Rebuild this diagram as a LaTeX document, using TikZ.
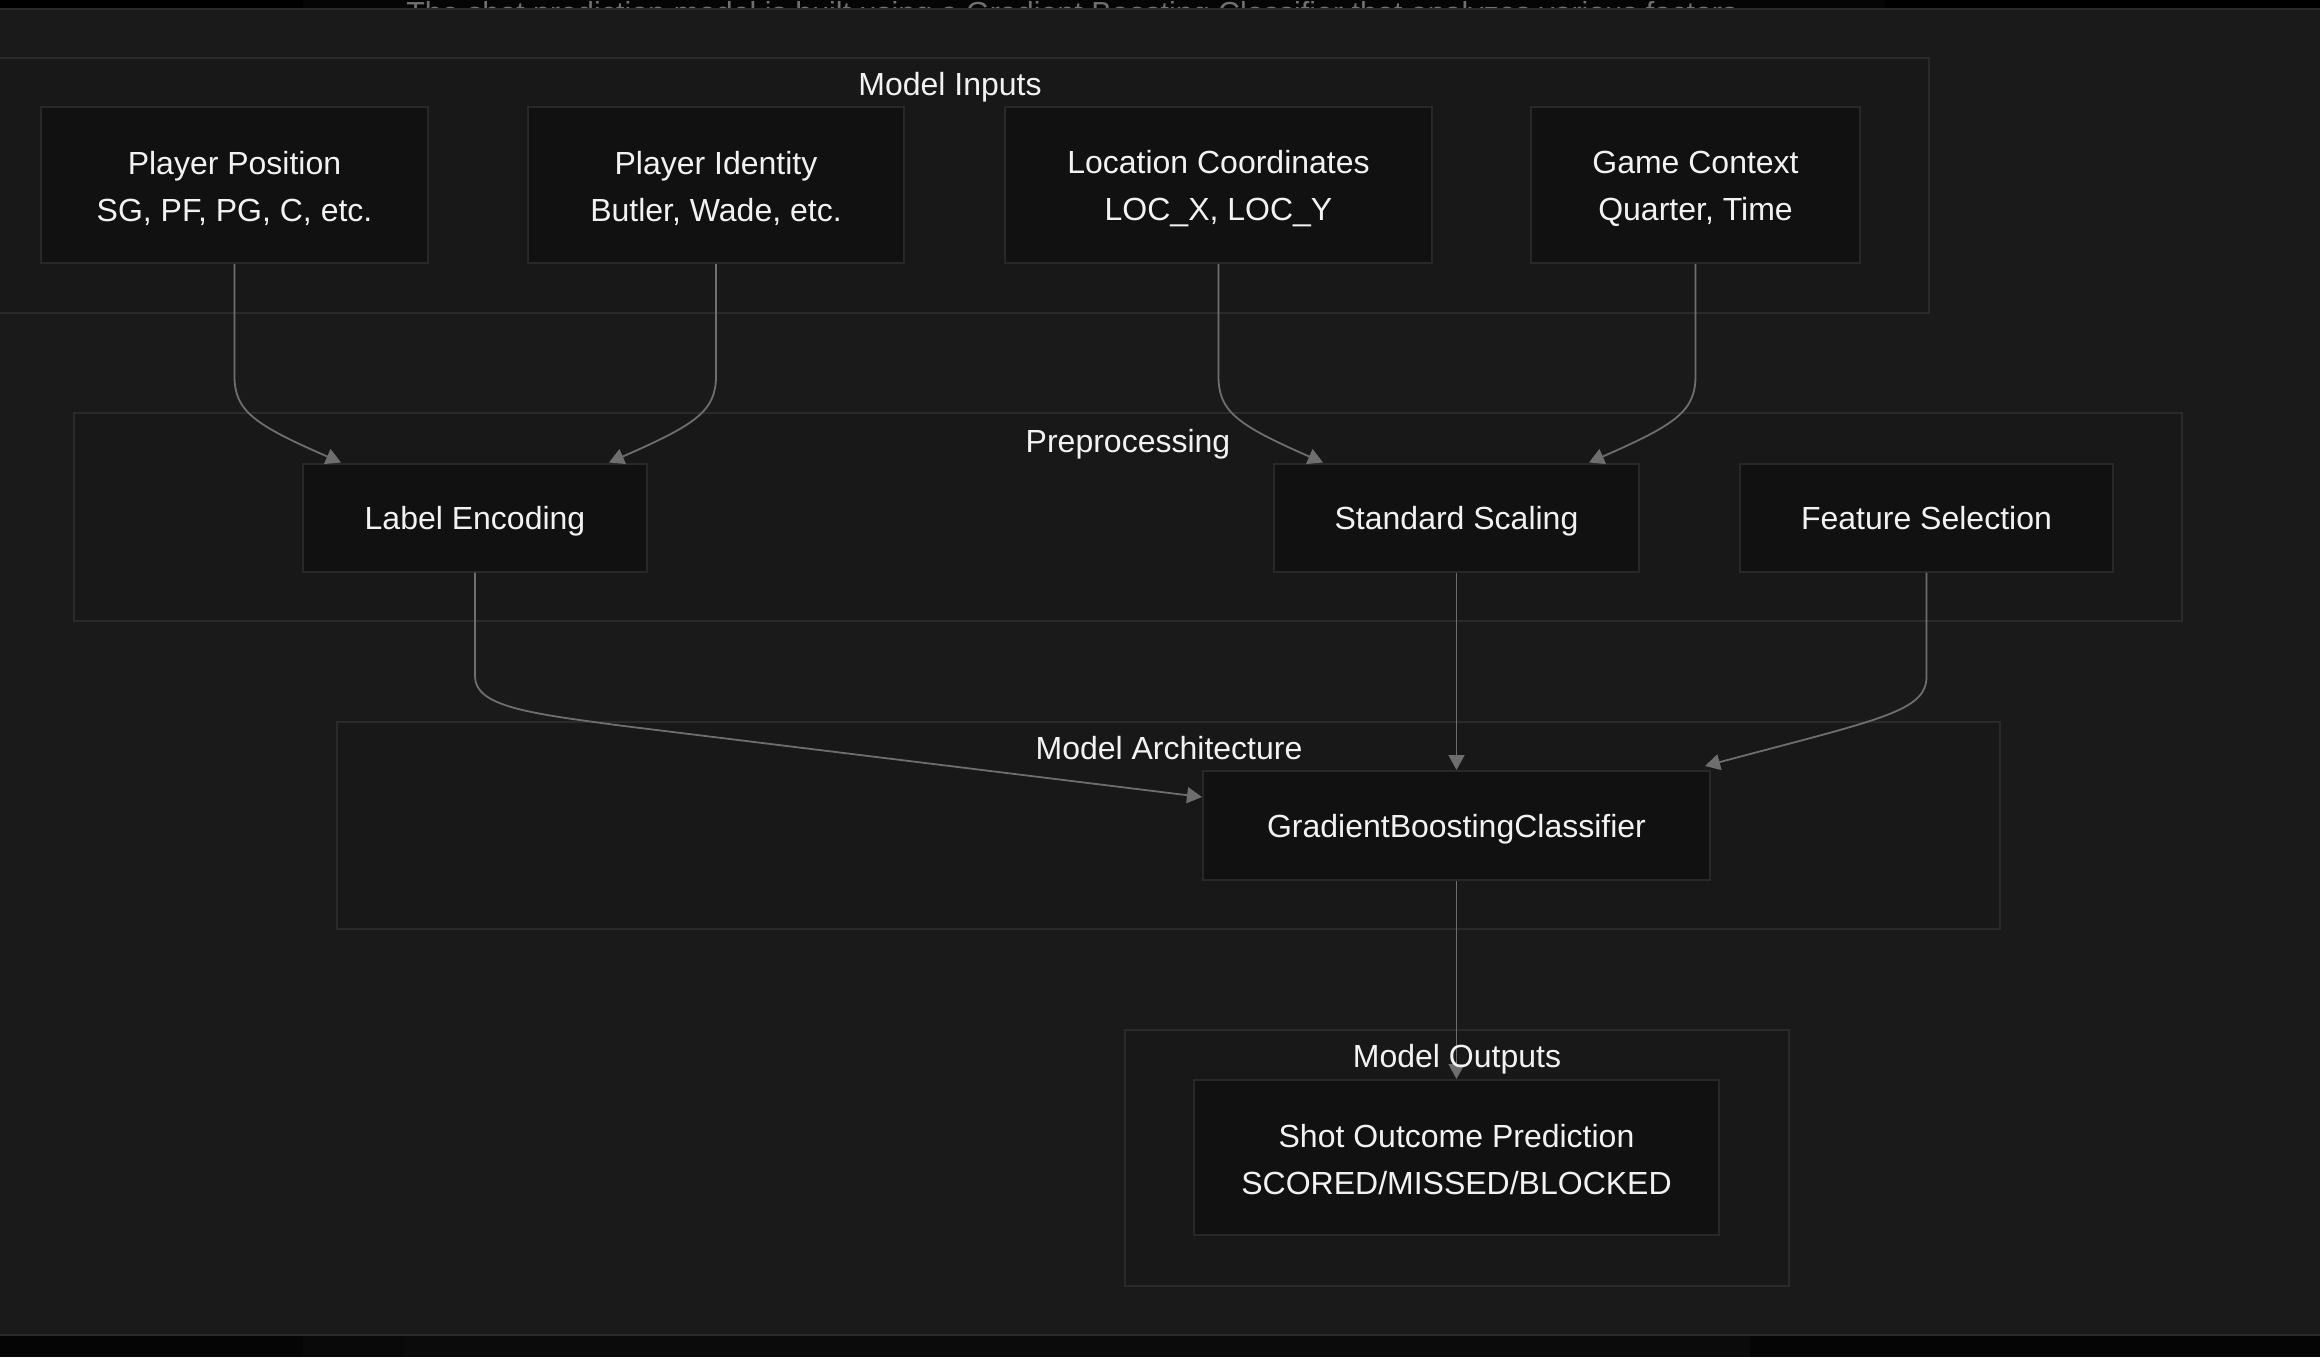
\documentclass[tikz,border=0pt]{standalone}
\usepackage{fontspec}
\usepackage{graphicx}
\setmainfont{Liberation Sans}
\usetikzlibrary{arrows.meta,calc}
\definecolor{bgmain}{HTML}{1A1A1A}
\definecolor{panelline}{HTML}{2B2B2B}
\definecolor{clusterfill}{HTML}{181818}
\definecolor{clusterline}{HTML}{2A2A2A}
\definecolor{nodefill}{HTML}{111111}
\definecolor{nodeline}{HTML}{282828}
\definecolor{edgecol}{HTML}{6E6E6E}
\definecolor{txt}{HTML}{F2F2F2}
\definecolor{toptxt}{HTML}{707070}
\definecolor{stripa}{HTML}{050505}
\definecolor{stripb}{HTML}{090909}
\definecolor{stripc}{HTML}{0B0B0B}
\tikzset{
  cluster/.style={draw=clusterline, fill=clusterfill, line width=1pt},
  box/.style={draw=nodeline, fill=nodefill, line width=1pt, inner sep=0pt,
    align=center, text=txt, font=\fontsize{16}{23.5}\selectfont,
    text height=11.5pt, text depth=0pt},
  btxt/.style={inner sep=0pt, align=center, text=txt,
    font=\fontsize{16}{23.5}\selectfont},
  ctitle/.style={text=txt, inner sep=0pt, font=\fontsize{16}{23.5}\selectfont,
    text height=11.5pt, text depth=0pt},
  edge/.style={draw=edgecol, line width=0.9pt,
    -{Triangle[length=7.5pt,width=8pt]}}
}
\begin{document}
\begin{tikzpicture}[x=0.5pt,y=-0.5pt]
\useasboundingbox (0,0) rectangle (2320,1357);
\clip (0,0) rectangle (2320,1357);
% outer frame / screenshot strips
\fill[black] (0,0) rectangle (2320,10);
\fill[stripa] (303,0) rectangle (1885,10);
\node[anchor=north west, inner sep=0pt, text=toptxt] (toptext) at (406,1)
  {\resizebox{665.5pt}{!}{\fontsize{14}{16}\selectfont The shot prediction model is built using a Gradient Boosting Classifier that analyzes various factors}};
\fill[stripa] (0,1336) rectangle (2320,1357);
\fill[stripb] (303,1336) rectangle (404,1357);
\fill[stripc] (404,1336) rectangle (1750,1357);
\fill[panelline] (0,8) rectangle (2320,1336);
\fill[bgmain] (0,10) rectangle (2320,1334);

% clusters
\draw[cluster] (-29,58) rectangle (1929,313);
\node[ctitle] (tin) at (950,84) {Model Inputs};
\draw[cluster] (74,413) rectangle (2182,621);
\node[ctitle] (tpre) at (1128,441) {Preprocessing};
\draw[cluster] (337,722) rectangle (2000,929);
\node[ctitle] (tarch) at (1169,747.5) {Model Architecture};
\draw[cluster] (1125,1030) rectangle (1789,1286);

% input nodes (two-line)
\node[box, minimum width=193.5pt, minimum height=78pt] (pp) at (234.5,185) {};
\node[btxt, yshift=-1.75pt] (pptxt) at (pp.center) {Player Position\\SG, PF, PG, C, etc.};
\node[box, minimum width=188pt, minimum height=78pt] (pi) at (716,185) {};
\node[btxt, yshift=-1.75pt] (pitxt) at (pi.center) {Player Identity\\Butler, Wade, etc.};
\node[box, minimum width=213.5pt, minimum height=78pt] (lc) at (1218.5,185) {};
\node[btxt, yshift=-1.75pt] (lctxt) at (lc.center) {Location Coordinates\\LOC\_X, LOC\_Y};
\node[box, minimum width=164.5pt, minimum height=78pt] (gc) at (1695.5,185) {};
\node[btxt, yshift=-1.75pt] (gctxt) at (gc.center) {Game Context\\Quarter, Time};

% preprocessing nodes
\node[box, minimum width=172pt, minimum height=54pt] (le) at (475,517.5) {Label Encoding};
\node[box, minimum width=182.5pt, minimum height=54pt] (ss) at (1456.5,517.5) {Standard Scaling};
\node[box, minimum width=186.5pt, minimum height=54pt] (fs) at (1926.5,517.5) {Feature Selection};

% model
\node[box, minimum width=253.5pt, minimum height=54.5pt] (gbc) at (1456.5,825.5) {GradientBoostingClassifier};

% output
\node[box, minimum width=262.5pt, minimum height=77.5pt] (so) at (1456.5,1157.5) {};
\node[btxt, yshift=-1pt] (sotxt) at (so.center) {Shot Outcome Prediction\\SCORED/MISSED/BLOCKED};

% edges
\draw[edge] (pp.south) -- ++(0,112) .. controls +(0,35) and +(-87,-38) .. ($(le.north west)+(39,0)$);
\draw[edge] (pi.south) -- ++(0,112) .. controls +(0,35) and +(87,-38) .. ($(le.north east)+(-39,0)$);
\draw[edge] (lc.south) -- ++(0,112) .. controls +(0,35) and +(-87,-38) .. ($(ss.north west)+(50,0)$);
\draw[edge] (gc.south) -- ++(0,112) .. controls +(0,35) and +(87,-38) .. ($(ss.north east)+(-51,0)$);
\draw[edge] (le.south) -- ++(0,104) .. controls +(0,30) and +(-90,-12) .. ++(145,49) -- ($(gbc.north west)+(0,27)$);
\draw[edge] (ss.south) -- (gbc.north);
\draw[edge] (fs.south) -- ++(0,104) .. controls +(0,35) and +(176,-47) .. ($(gbc.north east)+(-6,-4)$);
\draw[edge] (gbc.south) -- (so.north);

% output cluster title drawn over the edge
\node[ctitle] (tout) at (1457,1055.5) {Model Outputs};
\end{tikzpicture}
\end{document}
